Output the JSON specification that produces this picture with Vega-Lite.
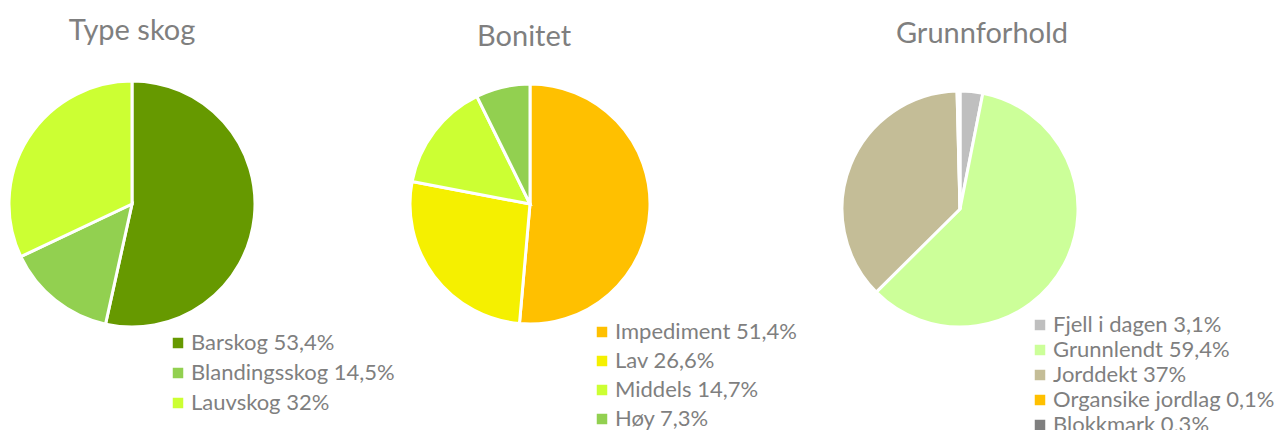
{
  "$schema": "https://vega.github.io/schema/vega-lite/v6.json",
  "padding": {"left": 0, "top": 17, "right": 0, "bottom": 0},
  "autosize": {"type": "pad"},
  "bounds": "flush",
  "spacing": 10,
  "background": "white",
  "config": {
    "view": {"stroke": null},
    "font": "Lato",
    "title": {"fontSize": 29, "font": "Lato", "fontWeight": "normal", "color": "#7F7F7F", "anchor": "middle", "baseline": "alphabetic"},
    "legend": {"labelFont": "Lato", "labelFontSize": 22, "labelColor": "#7F7F7F", "symbolType": "square", "symbolSize": 110, "symbolStrokeWidth": 0, "labelOffset": 2, "rowPadding": 8, "labelLimit": 400, "padding": 0}
  },
  "resolve": {"scale": {"color": "independent", "theta": "independent"}},
  "hconcat": [
    {
      "width": 264,
      "height": 250,
      "title": {"text": "Type skog", "offset": 29, "dx": 0},
      "data": {"values": [
        {"kategori": "Barskog", "andel": 53.4, "label": "Barskog 53,4%", "rekkefolge": 1},
        {"kategori": "Blandingsskog", "andel": 14.5, "label": "Blandingsskog 14,5%", "rekkefolge": 2},
        {"kategori": "Lauvskog", "andel": 32, "label": "Lauvskog 32%", "rekkefolge": 3}
      ]},
      "mark": {"type": "arc", "outerRadius": 123, "stroke": "white", "strokeWidth": 3},
      "encoding": {
        "theta": {"field": "andel", "type": "quantitative", "stack": true},
        "order": {"field": "rekkefolge", "type": "quantitative"},
        "color": {
          "field": "label", "type": "nominal",
          "scale": {"domain": ["Barskog 53,4%", "Blandingsskog 14,5%", "Lauvskog 32%"], "range": ["#669900", "#92D050", "#CCFF33"]},
          "legend": {"orient": "none", "legendX": 167, "legendY": 253, "title": null, "rowPadding": 8}
        }
      }
    },
    {
      "width": 512,
      "height": 250,
      "title": {"text": "Bonitet", "offset": 26, "dx": -6},
      "data": {"values": [
        {"kategori": "Impediment", "andel": 51.4, "label": "Impediment 51,4%", "rekkefolge": 1},
        {"kategori": "Lav", "andel": 26.6, "label": "Lav 26,6%", "rekkefolge": 2},
        {"kategori": "Middels", "andel": 14.7, "label": "Middels 14,7%", "rekkefolge": 3},
        {"kategori": "Høy", "andel": 7.3, "label": "Høy 7,3%", "rekkefolge": 4}
      ]},
      "mark": {"type": "arc", "outerRadius": 120, "stroke": "white", "strokeWidth": 3},
      "encoding": {
        "theta": {"field": "andel", "type": "quantitative", "stack": true},
        "order": {"field": "rekkefolge", "type": "quantitative"},
        "color": {
          "field": "label", "type": "nominal",
          "scale": {"domain": ["Impediment 51,4%", "Lav 26,6%", "Middels 14,7%", "Høy 7,3%"], "range": ["#FFC000", "#F5F000", "#CCFF33", "#92D050"]},
          "legend": {"orient": "none", "legendX": 317, "legendY": 242, "title": null, "rowPadding": 7}
        }
      }
    },
    {
      "width": 328,
      "height": 260,
      "title": {"text": "Grunnforhold", "offset": 30, "dx": 22},
      "data": {"values": [
        {"kategori": "Fjell i dagen", "andel": 3.1, "label": "Fjell i dagen 3,1%", "rekkefolge": 1},
        {"kategori": "Grunnlendt", "andel": 59.4, "label": "Grunnlendt 59,4%", "rekkefolge": 2},
        {"kategori": "Jorddekt", "andel": 37, "label": "Jorddekt 37%", "rekkefolge": 3},
        {"kategori": "Organsike jordlag", "andel": 0.1, "label": "Organsike jordlag 0,1%", "rekkefolge": 4},
        {"kategori": "Blokkmark", "andel": 0.3, "label": "Blokkmark 0,3%", "rekkefolge": 5}
      ]},
      "mark": {"type": "arc", "outerRadius": 118, "stroke": "white", "strokeWidth": 3},
      "encoding": {
        "theta": {"field": "andel", "type": "quantitative", "stack": true},
        "order": {"field": "rekkefolge", "type": "quantitative"},
        "color": {
          "field": "label", "type": "nominal",
          "scale": {"domain": ["Fjell i dagen 3,1%", "Grunnlendt 59,4%", "Jorddekt 37%", "Organsike jordlag 0,1%", "Blokkmark 0,3%"], "range": ["#BFBFBF", "#CCFF99", "#C4BD97", "#FFC000", "#7F7F7F"]},
          "legend": {"orient": "none", "legendX": 233, "legendY": 235, "title": null, "rowPadding": 3}
        }
      }
    }
  ]
}
